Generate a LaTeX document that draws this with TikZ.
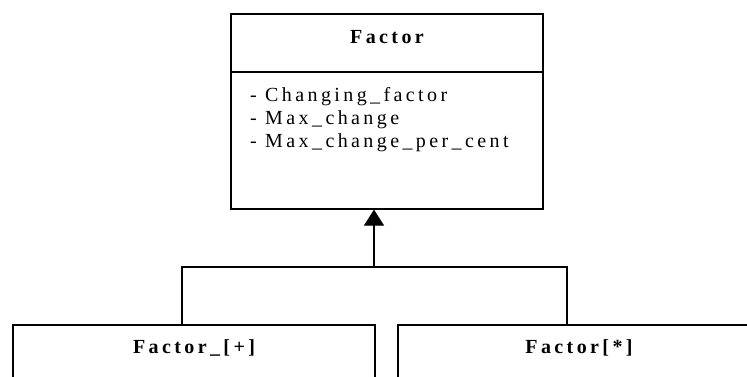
\documentclass[tikz,border=0pt]{standalone}
\usepackage{fontspec}
\setmainfont{Liberation Serif}[LetterSpace=17]
\usetikzlibrary{arrows.meta, positioning}
\tikzset{
  classbox/.style={rectangle, draw=black, line width=1.2pt, fill=white,
                   inner sep=0pt, minimum width=#1},
  classbox/.default=362pt,
  classtitle/.style={anchor=base, inner sep=0pt, font=\fontsize{20}{24}\selectfont\bfseries},
  attrtext/.style={anchor=base west, inner sep=0pt, font=\fontsize{20}{24}\selectfont},
  inherit/.style={-{Triangle[length=16pt, width=20pt]}, line width=1.2pt},
  link/.style={line width=1.2pt},
}

\begin{document}
\begin{tikzpicture}[x=1pt, y=-1pt]
        \clip (0,0) rectangle (747,376);
        \fill[white] (0,0) rectangle (747,376);

        % Factor class
        \node[classbox=312pt, minimum height=195pt] (factor) at (387, 111.5) {};
        \draw[link] (231, 72) -- (543, 72);
        \node[classtitle] (factortitle) at (387, 43) {Factor};
        \node[attrtext] (attrone) at (250, 101) {- Changing\_factor};
        \node[attrtext] (attrtwo) at (250, 124) {- Max\_change};
        \node[attrtext] (attrthree) at (250, 147) {- Max\_change\_per\_cent};

        % sub classes
        \node[classbox, minimum height=150pt] (plus) at (194, 400) {};
        \node[classtitle] (plustitle) at (194, 353) {Factor\_[+]};
        \node[classbox, minimum height=150pt] (star) at (579, 400) {};
        \node[classtitle] (startitle) at (579, 353) {Factor[*]};

        % generalisation
        \coordinate (joint) at (374, 267);
        \coordinate (lbend) at (182, 267);
        \coordinate (rbend) at (567, 267);
        \draw[link] (lbend |- plus.north) -- (lbend) -- (rbend) -- (rbend |- star.north);
        \draw[inherit] (joint) -- (joint |- factor.south);
      \end{tikzpicture}
\end{document}
